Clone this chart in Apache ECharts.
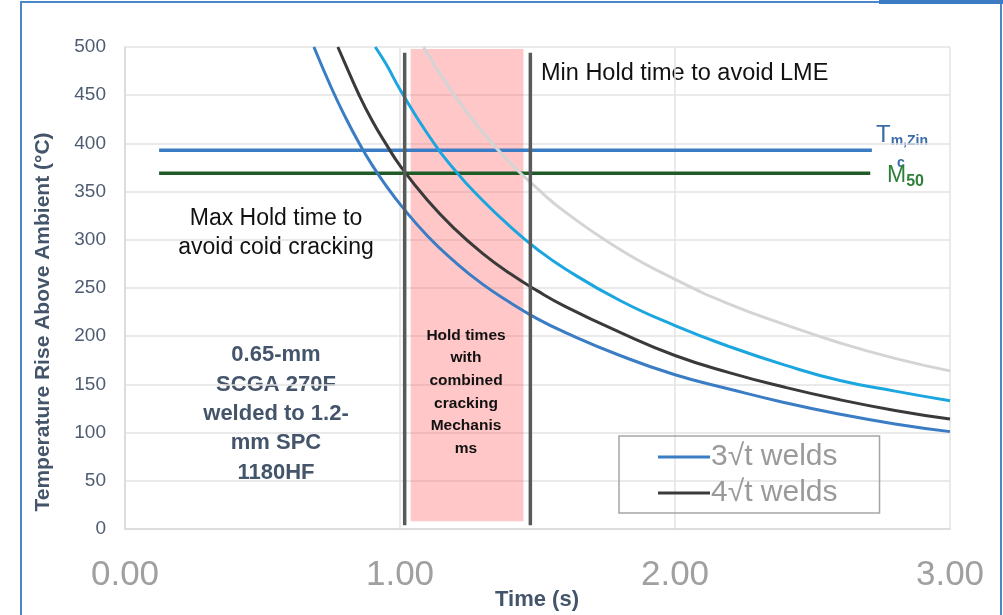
<!DOCTYPE html>
<html>
<head>
<meta charset="utf-8">
<script src="https://cdn.jsdelivr.net/npm/echarts@6/dist/echarts.min.js"></script>
<style>
  html, body { margin: 0; padding: 0; background: #fff; }
  #chart { width: 1003px; height: 615px; }
</style>
</head>
<body>
<div id="chart"></div>
<script>
// time axis ticks (s)
const xTicks = [0, 1, 2, 3];

// 3√t welds (blue)
const blueT = [0.687, 0.75, 0.8, 0.85, 0.9, 0.95, 1.0, 1.1, 1.2, 1.3, 1.4, 1.5, 1.6, 1.8, 2.0, 2.2, 2.4, 2.6, 2.8, 3.0];
const blueV = [500, 458, 428, 401, 377, 356, 337, 304, 277, 254, 235, 218, 204, 180, 160, 145, 131, 119, 109, 101];

// 4√t welds (dark)
const darkT = [0.774, 0.8, 0.85, 0.9, 0.95, 1.0, 1.1, 1.2, 1.3, 1.4, 1.5, 1.6, 1.8, 2.0, 2.2, 2.4, 2.6, 2.8, 3.0];
const darkV = [500, 483, 451, 423, 399, 377, 341, 311, 286, 265, 247, 231, 204, 180, 162, 147, 134, 123, 114];

// light blue curve
const cyanT = [0.91, 0.95, 1.0, 1.1, 1.2, 1.3, 1.4, 1.5, 1.6, 1.8, 2.0, 2.2, 2.4, 2.6, 2.8, 3.0];
const cyanV = [500, 482, 456, 410, 372, 341, 314, 290, 270, 237, 211, 189, 170, 154, 143, 133];

// light grey curve
const greyT = [1.086, 1.1, 1.2, 1.3, 1.4, 1.5, 1.6, 1.8, 2.0, 2.2, 2.4, 2.6, 2.8, 3.0];
const greyV = [500, 493, 449, 412, 380, 353, 329, 290, 259, 233, 212, 193, 177, 164];

// horizontal reference levels
const tmZinc = 393;
const m50 = 369;
const refStart = 0.124;
const refEnd = 2.716;

// hold time limits and combined band
const minHoldLME = 1.474;
const maxHoldCold = 1.017;
const limitLow = 4;
const limitHigh = 494;
const band = [1.039, 1.449, 8, 498];

const pairs = (xs, ys) => xs.map((x, i) => [x, ys[i]]);

const chart = echarts.init(document.getElementById("chart"));

const font = "'Liberation Sans', Arial, sans-serif";
const slate = "#44546A";

function curve(name, xs, ys, color) {
  return {
    name: name,
    type: "line",
    smooth: true,
    data: pairs(xs, ys),
    showSymbol: false,
    lineStyle: { color: color, width: 3 },
    itemStyle: { color: color },
    z: 2,
  };
}

chart.setOption({
  animation: false,
  textStyle: { fontFamily: font },
  grid: { left: 125, right: 53, top: 47, bottom: 86 },
  legend: {
    data: ["3√t welds", "4√t welds"],
    orient: "vertical",
    left: 619,
    top: 436,
    padding: [4, 42, 3, 39],
    itemGap: 2,
    itemWidth: 52,
    itemHeight: 3,
    icon: "rect",
    borderColor: "#A6A6A6",
    borderWidth: 1.5,
    textStyle: { fontSize: 30, color: "#9A9A9A", lineHeight: 34, padding: [0, 0, 0, -4] },
  },
  xAxis: {
    type: "value",
    min: xTicks[0],
    max: xTicks[xTicks.length - 1],
    interval: 1,
    axisLine: { show: true, lineStyle: { color: "#D9D9D9", width: 1.5 } },
    axisTick: { show: false },
    axisLabel: {
      fontSize: 35,
      color: "#A0A0A0",
      margin: 29,
      formatter: (v) => v.toFixed(2),
    },
    splitLine: { show: true, lineStyle: { color: "#E3E3E3", width: 1.5 } },
  },
  yAxis: {
    type: "value",
    min: 0,
    max: 500,
    interval: 50,
    axisLine: { show: true, lineStyle: { color: "#D9D9D9", width: 1.5 } },
    axisTick: { show: false },
    axisLabel: { fontSize: 19, color: "#4E5C72", margin: 19 },
    splitLine: { show: true, lineStyle: { color: "#E3E3E3", width: 1.5 } },
  },
  series: [
    {
      name: "Tm,Zinc",
      type: "line",
      data: [[refStart, tmZinc], [refEnd, tmZinc]],
      showSymbol: false,
      lineStyle: { color: "#3B7DC4", width: 3.5 },
      itemStyle: { color: "#3B7DC4" },
      z: 2,
    },
    {
      name: "M50",
      type: "line",
      data: [[refStart, m50], [refEnd - 0.006, m50]],
      showSymbol: false,
      lineStyle: { color: "#1E5B27", width: 3.5 },
      itemStyle: { color: "#1E5B27" },
      z: 2,
    },
    curve("grey", greyT, greyV, "#D4D4D4"),
    curve("cyan", cyanT, cyanV, "#1BA6E0"),
    curve("4√t welds", darkT, darkV, "#3A3A3A"),
    curve("3√t welds", blueT, blueV, "#3B7DC4"),
    {
      // pink band of combined cracking
      name: "band",
      type: "line",
      data: [],
      z: 5,
      markArea: {
        silent: true,
        itemStyle: { color: "rgba(255, 100, 100, 0.36)" },
        data: [[{ coord: [band[0], band[2]] }, { coord: [band[1], band[3]] }]],
      },
    },
    {
      name: "maxHold",
      type: "line",
      data: [[maxHoldCold, limitLow], [maxHoldCold, limitHigh]],
      showSymbol: false,
      lineStyle: { color: "#595959", width: 3.5 },
      z: 6,
    },
    {
      name: "minHold",
      type: "line",
      data: [[minHoldLME, limitLow], [minHoldLME, limitHigh]],
      showSymbol: false,
      lineStyle: { color: "#595959", width: 3.5 },
      z: 6,
    },
  ],
  graphic: [
    // slide frame
    { type: "rect", shape: { x: 21, y: 2, width: 980, height: 620 }, style: { fill: null, stroke: "#4A86C8", lineWidth: 2 }, silent: true },
    { type: "rect", shape: { x: 879, y: 0, width: 124, height: 4 }, style: { fill: "#3D7CC2" }, silent: true },
    {
      type: "text", x: 43, y: 322, rotation: Math.PI / 2,
      style: { text: "Temperature Rise Above Ambient (°C)", font: "bold 21px " + font, fill: slate, align: "center", verticalAlign: "middle" },
    },
    {
      type: "text", x: 537, y: 600,
      style: { text: "Time (s)", font: "bold 22px " + font, fill: slate, align: "center", verticalAlign: "middle" },
    },
    {
      type: "text", x: 541, y: 74,
      style: { text: "Min Hold time to avoid LME", font: "23.5px " + font, fill: "#111", align: "left", verticalAlign: "middle", width: 400 },
    },
    {
      type: "text", x: 276, y: 233,
      style: { text: "Max Hold time to\navoid cold cracking", font: "23px " + font, fill: "#111", align: "center", verticalAlign: "middle", lineHeight: 29 },
    },
    {
      type: "text", x: 276, y: 414,
      style: { text: "0.65-mm\nSCGA 270F\nwelded to 1.2-\nmm SPC\n1180HF", font: "bold 22px " + font, fill: slate, align: "center", verticalAlign: "middle", lineHeight: 29.3 },
    },
    {
      type: "text", x: 466, y: 392, z: 20,
      style: { text: "Hold times\nwith\ncombined\ncracking\nMechanis\nms", font: "bold 15.5px " + font, fill: "#111", align: "center", verticalAlign: "middle", lineHeight: 22.6 },
    },
    {
      type: "text", x: 876, y: 135,
      style: {
        text: "{t|T}{s|m,Zin}",
        verticalAlign: "middle",
        rich: {
          t: { font: "24px " + font, fill: "#3A6DA8" },
          s: { font: "bold 14px " + font, fill: "#3A6DA8", padding: [12, 0, 0, 0] },
        },
      },
    },
    {
      type: "text", x: 897, y: 163,
      style: { text: "c", font: "bold 14px " + font, fill: "#3A6DA8", align: "left", verticalAlign: "middle" },
    },
    {
      type: "text", x: 887, y: 176,
      style: {
        text: "{t|M}{s|50}",
        verticalAlign: "middle",
        rich: {
          t: { font: "23px " + font, fill: "#2E8038" },
          s: { font: "bold 16px " + font, fill: "#2E8038", padding: [12, 0, 0, 0] },
        },
      },
    },
  ],
});
</script>
</body>
</html>
